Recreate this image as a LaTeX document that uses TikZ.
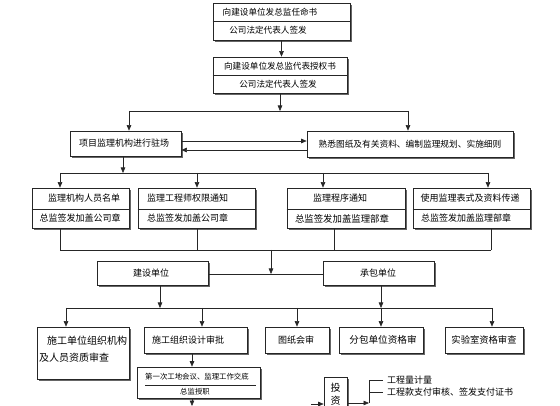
\documentclass[tikz,border=0pt]{standalone}
\usepackage{fontspec}
\setmainfont{Noto Sans CJK SC}
\usetikzlibrary{shadows,fit,arrows.meta}
\begin{document}
\begin{tikzpicture}[x=1pt,y=-1pt,
 box/.style={draw=black!85, line width=0.7pt, fill=white, inner sep=0pt,
   drop shadow={shadow xshift=1.8pt, shadow yshift=-1.8pt, fill=black!60, opacity=1}},
 txt/.style={inner sep=0pt, font=\fontsize{9}{10}\selectfont},
 stxt/.style={inner sep=0pt, font=\fontsize{8.6}{10}\selectfont},
 btxt/.style={inner sep=0pt, font=\fontsize{10}{11}\selectfont},
 ftxt/.style={inner sep=0pt, font=\fontsize{7.4}{8}\selectfont},
 ln/.style={draw=black!85, line width=0.6pt},
 arr/.style={ln, -{Triangle[length=5.5pt,width=4.5pt]}},
 div/.style={draw=black!85, line width=0.5pt}]
\useasboundingbox (0,0) rectangle (560,406);
\clip (0,0) rectangle (560,406);
\fill[white] (0,0) rectangle (560,406);

% top boxes
\node[box, fit={(213,3)(350,40)}] (T1) {};
\draw[div] (T1.west |- 0,21) -- (T1.east |- 0,21);
\node[stxt] (t1a) at (270,12) {向建设单位发总监任命书};
\node[stxt] (t1b) at (268,30.5) {公司法定代表人签发};

\node[box, fit={(213,57)(347,93)}] (T2) {};
\draw[div] (T2.west |- 0,75) -- (T2.east |- 0,75);
\node[stxt] (t2a) at (280,66) {向建设单位发总监代表授权书};
\node[stxt] (t2b) at (278,84) {公司法定代表人签发};

\draw[arr] (T1.south) -- (T1.south |- T2.north);

\coordinate (s1) at (280,111);
\coordinate (s1l) at (129,111);
\coordinate (s1r) at (408,111);
\draw[arr] (T2.south) -- (T2.south |- s1);
\draw[ln] (s1l) -- (s1r);

% second level
\node[box, fit={(70,131)(181,156)}] (P) {};
\node[txt] (pt) at (124,143.5) {项目监理机构进行驻场};
\node[box, fit={(307,131)(513,157)}] (S) {};
\node[txt, font=\fontsize{8.7}{10}\selectfont] (st) at (410,144) {熟悉图纸及有关资料、编制监理规划、实施细则};

\draw[arr] (s1l) -- (s1l |- P.north);
\draw[arr] (s1r) -- (s1r |- S.north);
\draw[arr] (P.east |- 0,141) -- (S.west |- 0,141);
\draw[arr] (S.west |- 0,150) -- (P.east |- 0,150);

\coordinate (s2) at (123,173);
\coordinate (s2a) at (60,173);
\coordinate (s2b) at (197,173);
\coordinate (s2c) at (323,173);
\coordinate (s2d) at (488,173);
\draw[arr] (P.south -| s2) -- (s2);
\draw[ln] (s2a) -- (s2d);

% row of four
\node[box, fit={(32,188)(129,228)}] (R1) {};
\node[box, fit={(138,188)(255,228)}] (R2) {};
\node[box, fit={(287,188)(405,228)}] (R3) {};
\node[box, fit={(413,188)(530,228)}] (R4) {};
\foreach \r in {R1,R2,R3,R4}{\draw[div] (\r.west |- 0,209) -- (\r.east |- 0,209);}
\draw[arr] (s2a) -- (s2a |- R1.north);
\draw[arr] (s2b) -- (s2b |- R2.north);
\draw[arr] (s2c) -- (s2c |- R3.north);
\draw[arr] (s2d) -- (s2d |- R4.north);

\node[txt] (r1a) at (84,198.5) {监理机构人员名单};
\node[txt] (r1b) at (80,218.5) {总监签发加盖公司章};
\node[txt, anchor=west] (r2a) at (147,198.5) {监理工程师权限通知};
\node[txt, anchor=west] (r2b) at (147,218.5) {总监签发加盖公司章};
\node[txt] (r3a) at (340,198.5) {监理程序通知};
\node[txt, font=\fontsize{9.4}{10}\selectfont] (r3b) at (342,218.5) {总监签发加盖监理部章};
\node[txt] (r4a) at (470,198.5) {使用监理表式及资料传递};
\node[txt] (r4b) at (466,218.5) {总监签发加盖监理部章};

\coordinate (m1) at (60,250);
\coordinate (m2) at (197,250);
\coordinate (m3) at (334,250);
\coordinate (m4) at (491,250);
\coordinate (m0) at (271,250);
\draw[ln] (R1.south -| m1) -- (m1);
\draw[ln] (R2.south -| m2) -- (m2);
\draw[ln] (R3.south -| m3) -- (m3);
\draw[ln] (R4.south -| m4) -- (m4);
\draw[ln] (m1) -- (m4);

% J and C
\node[box, fit={(97,261)(208,285)}] (J) {};
\node[txt] (jt) at (151,273) {建设单位};
\node[box, fit={(323,261)(434,285)}] (C) {};
\node[txt] (ct) at (378,273) {承包单位};
\coordinate (jc) at (271,274);
\draw[ln] (J.east |- jc) -- (C.west |- jc);
\draw[arr] (m0) -- (jc);

\coordinate (n0) at (160,308);
\coordinate (n4) at (381,308);
\coordinate (n1) at (66,308);
\coordinate (n2) at (202,308);
\coordinate (n3) at (297,308);
\coordinate (n5) at (492,308);
\draw[arr] (J.south -| n0) -- (n0);
\draw[arr] (C.south -| n4) -- (n4);
\draw[ln] (n1) -- (n5);

% bottom row
\node[box, fit={(37,327)(129,379)}] (B1) {};
\node[btxt, anchor=west] (b1a) at (47,341) {施工单位组织机构};
\node[btxt, anchor=west] (b1b) at (39,358) {及人员资质审查};
\node[box, fit={(144,327)(247,353)}] (B2) {};
\node[txt] (b2t) at (188,340) {施工组织设计审批};
\node[box, fit={(265,327)(329,353)}] (B3) {};
\node[txt] (b3t) at (296,340) {图纸会审};
\node[box, fit={(339,327)(423,353)}] (B4) {};
\node[txt, font=\fontsize{9.6}{10}\selectfont] (b4t) at (383,340) {分包单位资格审};
\node[box, fit={(445,327)(523,353)}] (B5) {};
\node[txt, font=\fontsize{9.3}{10}\selectfont] (b5t) at (484,340) {实验室资格审查};

\draw[arr] (n1) -- (n1 |- B1.north);
\draw[arr] (n2) -- (n2 |- B2.north);
\draw[arr] (n3) -- (n3 |- B3.north);
\draw[arr] (n4) -- (n4 |- B4.north);
\draw[arr] (n5) -- (n5 |- B5.north);

% first site meeting
\node[box, fit={(137,367)(260,398)}] (F) {};
\draw[div] (145,385) -- (256,385);
\node[ftxt] (fa) at (197,377) {第一次工地会议、监理工作交底};
\node[ftxt] (fb) at (195,392) {总监授职};
\coordinate (fx) at (192,0);
\coordinate (fe) at (192,406);
\draw[arr] (B2.south -| fx) -- (F.north -| fx);
\draw[arr] (F.south -| fe) -- (fe);

% investment
\node[box, fit={(324,377)(347,416)}] (I) {};
\node[btxt] (it1) at (335.5,388) {投};
\node[btxt] (it2) at (335.5,401) {资};
\coordinate (ia) at (311,404);
\draw[arr] (ia) -- (I.west |- ia);

\node[txt, anchor=west, inner xsep=4pt] (q1) at (383,380) {工程量计量};
\node[txt, anchor=west, inner xsep=4pt] (q2) at (383,392.5) {工程款支付审核、签发支付证书};
\coordinate (bt) at (369,380);
\coordinate (bk) at (369,403);
\draw[ln] (bt) -- (bk);
\draw[ln] (bt) -- (q1.west);
\draw[ln] (bt |- q2) -- (q2.west);
\draw[arr] (I.east |- bk) -- (bk);
\end{tikzpicture}
\end{document}
